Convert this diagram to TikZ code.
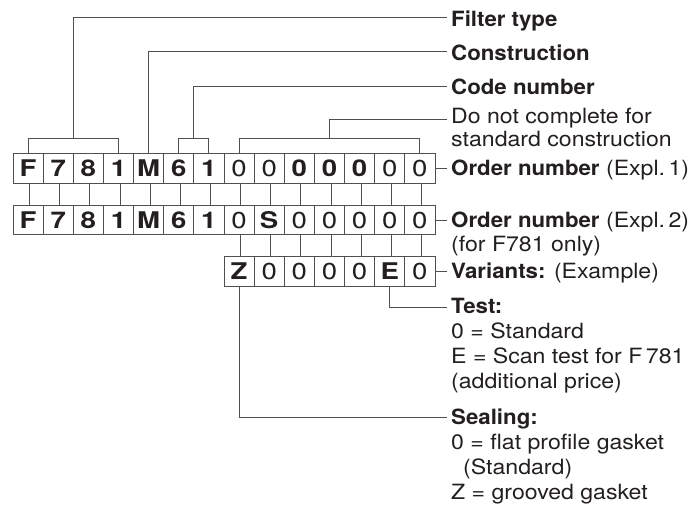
\documentclass[tikz,border=0pt]{standalone}
\usepackage{fontspec}
\setmainfont{TeX Gyre Heros}[FakeStretch=1.1,BoldFeatures={FakeStretch=1.06}]
\newfontfamily\cellfont{TeX Gyre Heros}[FakeStretch=1.2]
\definecolor{ln}{HTML}{505050}
\definecolor{tx}{HTML}{231F20}
\begin{document}
\begin{tikzpicture}[x=1pt,y=-1pt,font=\fontsize{21}{25}\selectfont,
  cell/.style={draw=ln,line width=0.9pt,minimum width=30.14pt,minimum height=29.3pt,inner sep=0pt,text=tx,font=\cellfont\fontsize{23}{25}\selectfont},
  conn/.style={draw=ln,line width=0.9pt},
  lab/.style={anchor=base west,inner sep=0pt,text=tx}]
\useasboundingbox (0,0) rectangle (698,504);
% row 1
\foreach \t [count=\i from 0] in {{\bfseries F},{\bfseries 7},{\bfseries 8},{\bfseries 1},{\bfseries M},{\bfseries 6},{\bfseries 1},0,0,{\bfseries 0},{\bfseries 0},{\bfseries 0},0,0}
  \node[cell] (a\i) at (28.07+30.14*\i,168.5) {\t};
% row 2
\foreach \t [count=\i from 0] in {{\bfseries F},{\bfseries 7},{\bfseries 8},{\bfseries 1},{\bfseries M},{\bfseries 6},{\bfseries 1},0,{\bfseries S},0,0,0,0,0}
  \node[cell] (b\i) at (28.07+30.14*\i,220.25) {\t};
% row 3
\foreach \t [count=\i from 7] in {{\bfseries Z},0,0,0,0,{\bfseries E},0}
  \node[cell] (c\i) at (28.07+30.14*\i,271.5) {\t};
% connectors between rows
\foreach \i in {0,...,13}
  \draw[conn] ([xshift=1.5pt]a\i.south) -- ([xshift=1.5pt]b\i.north);
\foreach \i in {7,...,13}
  \draw[conn] ([xshift=1.5pt]b\i.south) -- ([xshift=1.5pt]c\i.north);
% label ends
\coordinate (eFT) at (447,17.5);
\coordinate (eCo) at (447,51.7);
\coordinate (eCN) at (447,86);
\coordinate (eDN) at (447,119.3);
\coordinate (eO1) at (447,168.5);
\coordinate (eO2) at (447,220.25);
\coordinate (eV) at (447,271.5);
\coordinate (eT) at (447,307.5);
\coordinate (eS) at (447,417.5);
\coordinate (ftb) at (73.28,138.3);
\coordinate (cnb) at (193.84,138.3);
\coordinate (dnb) at (329.47,138.3);
% brackets
\draw[conn] (a0.north) -- (a0.north |- ftb) -- (a3.north |- ftb) -- (a3.north);
\draw[conn] (ftb) |- (eFT);
\draw[conn] (a4.north) |- (eCo);
\draw[conn] (a5.north) -- (a5.north |- cnb) -- (a6.north |- cnb) -- (a6.north);
\draw[conn] (cnb) |- (eCN);
\draw[conn] (a7.north) -- (a7.north |- dnb) -- (a13.north |- dnb) -- (a13.north);
\draw[conn] (dnb) |- (eDN);
\draw[conn] (a13.east) -- (eO1);
\draw[conn] (b13.east) -- (eO2);
\draw[conn] (c13.east) -- (eV);
\draw[conn] (c12.south) |- (eT);
\draw[conn] (c7.south) |- (eS);
% labels
\node[lab] (lFT) at (451,26) {\bfseries Filter type};
\node[lab] (lCo) at (451,60) {\bfseries Construction};
\node[lab] (lCN) at (451,94) {\bfseries Code number};
\node[lab] (lDN1) at (451,123.3) {Do not complete for};
\node[lab] (lDN2) at (451,146.7) {standard construction};
\node[lab] (lO1) at (451,175.7) {\textbf{Order number} (Expl.\,1)};
\node[lab] (lO2) at (451,227.5) {\textbf{Order number} (Expl.\,2)};
\node[lab] (lO2b) at (451,251.5) {(for F781 only)};
\node[lab] (lV) at (451,278.7) {\textbf{Variants:} (Example)};
\node[lab] (lT) at (451,313.5) {\bfseries Test:};
\node[lab] (lT1) at (451,338.5) {0~= Standard};
\node[lab] (lT2) at (451,363.5) {E = Scan test for F\,781};
\node[lab] (lT3) at (451,388.5) {(additional price)};
\node[lab] (lS) at (451,424.5) {\bfseries Sealing:};
\node[lab] (lS1) at (451,449.5) {0~= flat profile gasket};
\node[lab] (lS2) at (463,474.5) {(Standard)};
\node[lab] (lS3) at (451,499) {Z = grooved gasket};
\end{tikzpicture}
\end{document}
